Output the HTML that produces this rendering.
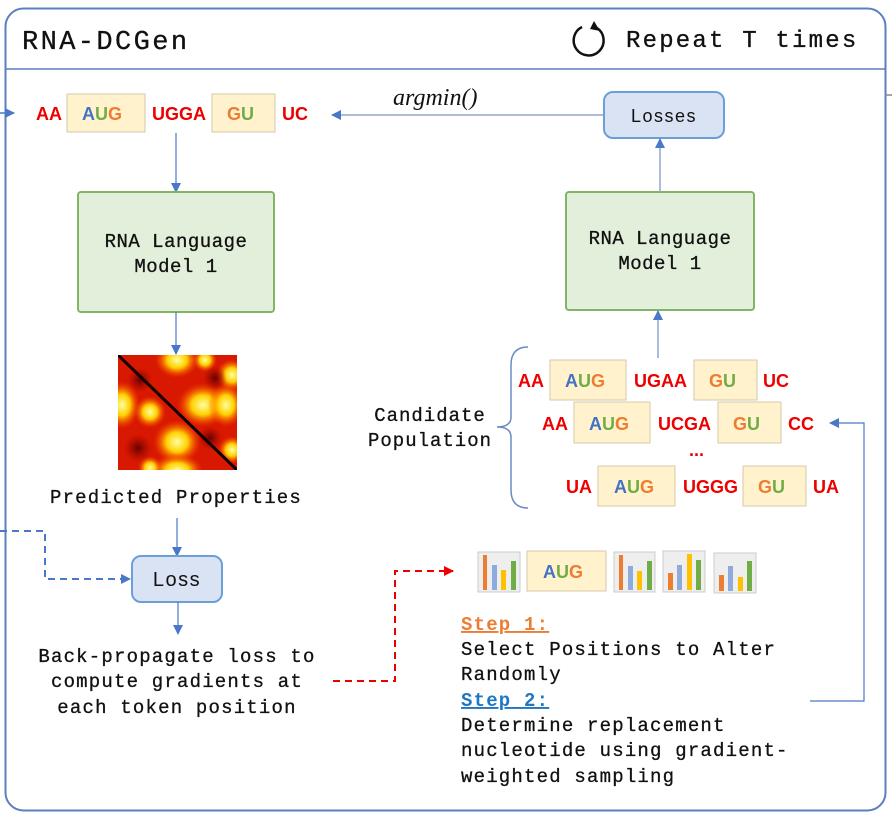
<!DOCTYPE html>
<html><head><meta charset="utf-8"><style>
html,body{margin:0;padding:0;background:#fff;}
svg{display:block;}
.m{font-family:"Liberation Mono",monospace;fill:#111;}
.s{font-family:"Liberation Sans",sans-serif;font-weight:bold;font-size:18px;}
</style></head><body>
<svg width="892" height="813" viewBox="0 0 892 813" xmlns="http://www.w3.org/2000/svg">
<defs>
<marker id="ab" markerWidth="10" markerHeight="10" refX="9" refY="5" orient="auto" markerUnits="userSpaceOnUse"><path d="M0,0 L10,5 L0,10 z" fill="#4a78c8"/></marker>
<marker id="ar" markerWidth="10" markerHeight="10" refX="9" refY="5" orient="auto" markerUnits="userSpaceOnUse"><path d="M0,0 L10,5 L0,10 z" fill="#e00"/></marker>
<radialGradient id="y"><stop offset="0" stop-color="#ffffa0"/><stop offset="0.45" stop-color="#ffd000"/><stop offset="1" stop-color="#ff4000" stop-opacity="0"/></radialGradient>
<radialGradient id="d"><stop offset="0" stop-color="#500" stop-opacity="0.9"/><stop offset="1" stop-color="#900" stop-opacity="0"/></radialGradient>
<clipPath id="hc"><rect x="118" y="355" width="119" height="115"/></clipPath>
</defs>
<rect x="5.5" y="8.5" width="880" height="802" rx="18" fill="#fff" stroke="#5b7fc0" stroke-width="2"/>
<line x1="6" y1="69" x2="885" y2="69" stroke="#5b7fc0" stroke-width="1.5"/>
<line x1="885" y1="95" x2="892" y2="95" stroke="#888" stroke-width="1.5"/>
<text x="22" y="49" class="m" font-size="27" letter-spacing="2.4" stroke="#111" stroke-width="0.3">RNA-DCGen</text>
<path d="M582,27 A15,15 0 1 0 597,28" fill="none" stroke="#111" stroke-width="2.5"/>
<path d="M590,29 L594,21 L600,31 z" fill="#111"/>
<text x="626" y="47" class="m" font-size="24" letter-spacing="2.2" stroke="#111" stroke-width="0.3">Repeat T times</text>

<line x1="0" y1="113" x2="14" y2="113" stroke="#4a78c8" stroke-width="1.5" marker-end="url(#ab)"/>
<text x="36" y="120" class="s" fill="#e00">AA</text>
<rect x="67" y="94" width="78" height="38" fill="#fff2cc" stroke="#d6c9a8"/>
<text x="82" y="120" class="s"><tspan fill="#4472c4">A</tspan><tspan fill="#70ad47">U</tspan><tspan fill="#ed7d31">G</tspan></text>
<text x="152" y="120" class="s" fill="#e00">UGGA</text>
<rect x="212" y="94" width="63" height="38" fill="#fff2cc" stroke="#d6c9a8"/>
<text x="227" y="120" class="s"><tspan fill="#ed7d31">G</tspan><tspan fill="#70ad47">U</tspan></text>
<text x="282" y="120" class="s" fill="#e00">UC</text>

<line x1="604" y1="115" x2="332" y2="115" stroke="#8ea6cc" stroke-width="1.5" marker-end="url(#ab)"/>
<text x="393" y="105" font-family="Liberation Serif,serif" font-style="italic" font-size="24" fill="#111">argmin()</text>
<rect x="604" y="92" width="120" height="46" rx="9" fill="#dae3f3" stroke="#6a9fd8" stroke-width="2"/>
<text x="664" y="122" text-anchor="middle" font-family="Liberation Sans,sans-serif" font-size="18" letter-spacing="1.5" fill="#111">Losses</text>

<line x1="176" y1="133" x2="176" y2="192" stroke="#4a78c8" stroke-width="1.2" marker-end="url(#ab)"/>
<rect x="78" y="192" width="196" height="120" rx="3" fill="#e2efda" stroke="#82b366" stroke-width="2"/>
<g class="m" font-size="19" letter-spacing="0.5" text-anchor="middle" stroke="#111" stroke-width="0.3">
<text x="176" y="247">RNA Language</text>
<text x="176" y="272">Model 1</text>
<text x="660" y="244">RNA Language</text>
<text x="660" y="269">Model 1</text>
</g>
<line x1="176" y1="312" x2="176" y2="354" stroke="#4a78c8" stroke-width="1.2" marker-end="url(#ab)"/>

<g clip-path="url(#hc)">
<rect x="118" y="355" width="119" height="115" fill="#d81800"/>
<ellipse cx="177" cy="360" rx="22" ry="18" fill="url(#y)"/>
<ellipse cx="122" cy="405" rx="18" ry="24" fill="url(#y)"/>
<ellipse cx="203" cy="405" rx="26" ry="22" fill="url(#y)"/>
<ellipse cx="226" cy="405" rx="18" ry="22" fill="url(#y)"/>
<ellipse cx="177" cy="442" rx="24" ry="22" fill="url(#y)"/>
<ellipse cx="177" cy="470" rx="26" ry="16" fill="url(#y)"/>
<circle cx="150" cy="412" r="16" fill="url(#y)"/>
<circle cx="232" cy="375" r="16" fill="url(#y)"/>
<circle cx="232" cy="450" r="14" fill="url(#y)"/>
<circle cx="150" cy="468" r="12" fill="url(#y)"/>
<circle cx="205" cy="360" r="12" fill="url(#y)"/>
<circle cx="140" cy="380" r="12" fill="url(#d)"/>
<circle cx="210" cy="438" r="12" fill="url(#d)"/>
<circle cx="138" cy="448" r="14" fill="url(#d)"/>
<circle cx="215" cy="378" r="12" fill="url(#d)"/>
<line x1="118" y1="355" x2="237" y2="470" stroke="#100" stroke-width="3"/>
</g>
<text x="176" y="503" text-anchor="middle" class="m" font-size="19" letter-spacing="1.2" stroke="#111" stroke-width="0.3">Predicted Properties</text>
<line x1="177" y1="518" x2="177" y2="556" stroke="#4a78c8" stroke-width="1.2" marker-end="url(#ab)"/>
<rect x="132" y="556" width="90" height="46" rx="9" fill="#dae3f3" stroke="#6a9fd8" stroke-width="2"/>
<text x="177" y="586" text-anchor="middle" font-family="Liberation Sans,sans-serif" font-size="20" letter-spacing="1.5" fill="#111">Loss</text>
<line x1="178" y1="602" x2="178" y2="634" stroke="#4a78c8" stroke-width="1.2" marker-end="url(#ab)"/>
<g class="m" font-size="19" letter-spacing="1.2" text-anchor="middle" stroke="#111" stroke-width="0.3">
<text x="177" y="662">Back-propagate loss to</text>
<text x="177" y="687">compute gradients at</text>
<text x="177" y="713">each token position</text>
</g>
<path d="M0,531 H45 V579 H130" fill="none" stroke="#4a78c8" stroke-width="2" stroke-dasharray="7,5" marker-end="url(#ab)"/>
<path d="M333,681 H395 V571 H453" fill="none" stroke="#e00" stroke-width="2" stroke-dasharray="7,5" marker-end="url(#ar)"/>

<rect x="566" y="192" width="188" height="118" rx="3" fill="#e2efda" stroke="#82b366" stroke-width="2"/>
<g class="m" font-size="19" letter-spacing="0.5" text-anchor="middle" stroke="#111" stroke-width="0.3">
<text x="660" y="244">RNA Language</text>
<text x="660" y="269">Model 1</text>
</g>
<line x1="660" y1="192" x2="660" y2="139" stroke="#8ea6cc" stroke-width="1.5" marker-end="url(#ab)"/>
<line x1="658" y1="358" x2="658" y2="311" stroke="#8ea6cc" stroke-width="1.5" marker-end="url(#ab)"/>

<path d="M528,347 Q511,347 511,365 V417 Q511,427 497,427 Q511,427 511,437 V490 Q511,508 528,508" fill="none" stroke="#6a8cc4" stroke-width="1.5"/>
<g class="m" font-size="19" letter-spacing="1" text-anchor="middle" stroke="#111" stroke-width="0.3">
<text x="430" y="421">Candidate</text>
<text x="430" y="446">Population</text>
</g>

<text x="518" y="387" class="s" fill="#e00">AA</text>
<rect x="550" y="360" width="76" height="40" fill="#fff2cc" stroke="#d6c9a8"/>
<text x="565" y="387" class="s"><tspan fill="#4472c4">A</tspan><tspan fill="#70ad47">U</tspan><tspan fill="#ed7d31">G</tspan></text>
<text x="634" y="387" class="s" fill="#e00">UGAA</text>
<rect x="694" y="360" width="63" height="40" fill="#fff2cc" stroke="#d6c9a8"/>
<text x="709" y="387" class="s"><tspan fill="#ed7d31">G</tspan><tspan fill="#70ad47">U</tspan></text>
<text x="763" y="387" class="s" fill="#e00">UC</text>

<text x="542" y="430" class="s" fill="#e00">AA</text>
<rect x="574" y="402" width="76" height="41" fill="#fff2cc" stroke="#d6c9a8"/>
<text x="589" y="430" class="s"><tspan fill="#4472c4">A</tspan><tspan fill="#70ad47">U</tspan><tspan fill="#ed7d31">G</tspan></text>
<text x="658" y="430" class="s" fill="#e00">UCGA</text>
<rect x="718" y="402" width="63" height="41" fill="#fff2cc" stroke="#d6c9a8"/>
<text x="733" y="430" class="s"><tspan fill="#ed7d31">G</tspan><tspan fill="#70ad47">U</tspan></text>
<text x="788" y="430" class="s" fill="#e00">CC</text>
<text x="689" y="456" class="s" fill="#e00" font-size="14">...</text>

<text x="566" y="493" class="s" fill="#e00">UA</text>
<rect x="598" y="466" width="77" height="40" fill="#fff2cc" stroke="#d6c9a8"/>
<text x="614" y="493" class="s"><tspan fill="#4472c4">A</tspan><tspan fill="#70ad47">U</tspan><tspan fill="#ed7d31">G</tspan></text>
<text x="683" y="493" class="s" fill="#e00">UGGG</text>
<rect x="743" y="466" width="63" height="40" fill="#fff2cc" stroke="#d6c9a8"/>
<text x="758" y="493" class="s"><tspan fill="#ed7d31">G</tspan><tspan fill="#70ad47">U</tspan></text>
<text x="813" y="493" class="s" fill="#e00">UA</text>

<path d="M810,701 H864 V423 H830" fill="none" stroke="#4a78c8" stroke-width="1.2" marker-end="url(#ab)"/>

<g stroke="#ccc">
<rect x="478" y="552" width="42" height="40" fill="#eee"/>
<rect x="614" y="552" width="41" height="40" fill="#eee"/>
<rect x="663" y="551" width="42" height="41" fill="#eee"/>
<rect x="714" y="553" width="42" height="40" fill="#eee"/>
</g>
<g>
<rect x="483" y="555" width="4" height="35" fill="#ed7d31"/><rect x="492" y="565" width="5" height="25" fill="#8faadc"/><rect x="501" y="570" width="5" height="20" fill="#ffc000"/><rect x="511" y="561" width="5" height="29" fill="#70ad47"/>
<rect x="619" y="555" width="4" height="35" fill="#ed7d31"/><rect x="628" y="566" width="5" height="24" fill="#8faadc"/><rect x="637" y="571" width="5" height="19" fill="#ffc000"/><rect x="647" y="561" width="5" height="29" fill="#70ad47"/>
<rect x="668" y="573" width="5" height="17" fill="#ed7d31"/><rect x="677" y="565" width="5" height="25" fill="#8faadc"/><rect x="687" y="554" width="5" height="36" fill="#ffc000"/><rect x="696" y="560" width="5" height="30" fill="#70ad47"/>
<rect x="719" y="575" width="5" height="16" fill="#ed7d31"/><rect x="728" y="566" width="5" height="25" fill="#8faadc"/><rect x="738" y="577" width="5" height="14" fill="#ffc000"/><rect x="747" y="561" width="5" height="30" fill="#70ad47"/>
</g>
<rect x="527" y="551" width="79" height="40" fill="#fff2cc" stroke="#d6c9a8"/>
<text x="543" y="578" class="s"><tspan fill="#4472c4">A</tspan><tspan fill="#70ad47">U</tspan><tspan fill="#ed7d31">G</tspan></text>

<g class="m" font-size="19" letter-spacing="1.2">
<text x="461" y="630" style="fill:#ed7d31" font-weight="bold" text-decoration="underline">Step 1:</text>
<text x="461" y="706" style="fill:#1f77c4" font-weight="bold" text-decoration="underline">Step 2:</text>
<g stroke="#111" stroke-width="0.3">
<text x="461" y="655">Select Positions to Alter</text>
<text x="461" y="680">Randomly</text>
<text x="461" y="731">Determine replacement</text>
<text x="461" y="756">nucleotide using gradient-</text>
<text x="461" y="782">weighted sampling</text>
</g>
</g>
</svg>
</body></html>
